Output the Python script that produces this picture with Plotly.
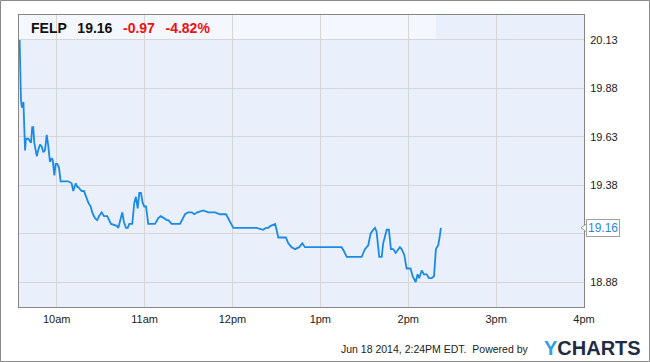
import datetime as dt
import plotly.graph_objects as go

# ---- data: minutes after 9:30 open, and price ----
minutes = [4.7, 5.2, 5.6, 6.3, 7.3, 8.4, 9.0, 10.6, 11.8, 12.5, 13.3, 14.0, 14.7, 16.4, 17.4,
           18.6, 19.8, 20.9, 22.0, 23.2, 24.3, 25.4, 26.6, 27.3, 28.4, 29.3, 30.4, 31.6, 32.7,
           33.4, 36.8, 37.9, 40.2, 41.3, 43.0, 44.1, 44.7, 45.9, 47.1, 48.6, 50.5, 51.6, 53.2,
           54.3, 56.1, 57.7, 58.9, 60.7, 62.3, 64.5, 67.1, 71.0, 72.1, 73.7, 74.8, 75.9, 77.3,
           78.5, 79.6, 80.7, 81.6, 83.0, 84.1, 85.3, 86.4, 87.5, 88.7, 89.8, 91.0, 92.5, 97.1,
           99.4, 101.0, 103.2, 105.1, 106.2, 108.5, 114.2, 117.6, 119.8, 122.2, 123.9, 126.0,
           130.1, 133.5, 138.1, 141.5, 145.6, 147.1, 148.3, 150.6, 152.9, 157.4, 163.1, 166.5,
           171.0, 172.9, 174.4, 176.1, 179.2, 181.3, 186.5, 188.1, 190.4, 192.7, 195.6, 197.7,
           199.5, 202.9, 207.5, 218.8, 222.2, 224.5, 226.1, 228.0, 231.4, 234.8, 237.0, 238.2,
           239.3, 240.5, 242.7, 244.3, 246.1, 247.3, 248.4, 250.2, 251.9, 252.9, 255.3, 256.8,
           258.2, 259.8, 261.4, 263.2, 264.3, 265.5, 267.3, 268.9, 271.6, 273.0, 275.1, 276.4,
           277.5, 279.2, 280.7, 282.6, 284.1, 286.0, 287.6, 288.9, 290.5, 291.6, 292.3]
prices = [20.13, 19.97, 19.82, 19.78, 19.81, 19.56, 19.62, 19.62, 19.61, 19.60, 19.68, 19.68,
          19.60, 19.53, 19.56, 19.59, 19.58, 19.55, 19.56, 19.64, 19.58, 19.50, 19.52, 19.51,
          19.43, 19.49, 19.49, 19.47, 19.40, 19.40, 19.40, 19.40, 19.39, 19.35, 19.39, 19.37,
          19.37, 19.36, 19.35, 19.35, 19.31, 19.29, 19.27, 19.24, 19.21, 19.20, 19.22, 19.24,
          19.22, 19.22, 19.18, 19.17, 19.16, 19.20, 19.24, 19.19, 19.16, 19.16, 19.18, 19.18,
          19.18, 19.29, 19.32, 19.26, 19.34, 19.34, 19.29, 19.27, 19.27, 19.18, 19.18, 19.21,
          19.22, 19.21, 19.20, 19.20, 19.18, 19.18, 19.23, 19.24, 19.24, 19.23, 19.24, 19.25,
          19.24, 19.24, 19.23, 19.23, 19.21, 19.19, 19.16, 19.16, 19.16, 19.16, 19.16, 19.15,
          19.16, 19.16, 19.17, 19.18, 19.11, 19.11, 19.08, 19.06, 19.05, 19.06, 19.08, 19.06,
          19.06, 19.06, 19.06, 19.06, 19.06, 19.04, 19.01, 19.01, 19.01, 19.01, 19.01, 19.03,
          19.05, 19.07, 19.13, 19.15, 19.16, 19.14, 19.01, 19.01, 19.08, 19.15, 19.15, 19.05,
          19.05, 19.03, 19.05, 19.06, 19.05, 19.02, 18.95, 18.95, 18.91, 18.88, 18.92, 18.90,
          18.94, 18.92, 18.92, 18.90, 18.90, 18.91, 19.05, 19.07, 19.12, 19.16]

y_ticks = [18.88, 19.13, 19.38, 19.63, 19.88, 20.13]
x_tick_hours = [10, 11, 12, 13, 14, 15, 16]
x_tick_labels = ["10am", "11am", "12pm", "1pm", "2pm", "3pm", "4pm"]

ticker = "FELP"
last_price = 19.16
change = "-0.97"
change_pct = "-4.82%"
footer = "Jun 18 2014, 2:24PM EDT.  Powered by"

base = dt.datetime(2014, 6, 18, 9, 30)
times = [base + dt.timedelta(minutes=m) for m in minutes]
day = dt.datetime(2014, 6, 18)
x_tickvals = [day + dt.timedelta(hours=h) for h in x_tick_hours]

FONT = "Liberation Sans, Arial, sans-serif"

fig = go.Figure()
fig.add_trace(go.Scatter(x=times, y=prices, mode="lines",
                         line=dict(color="#1a8ae6", width=1.8), hoverinfo="skip"))

L, R, T, B = 19, 66, 15, 55
W, H = 650, 362
pw, ph = W - L - R, H - T - B
y_lo, y_hi = 18.7511, 20.2589
ppu = ph / (y_hi - y_lo)  # pixels per price unit

def px(x):
    return (x - L) / pw

def py(y):
    return (H - B - y) / ph

fig.update_layout(
    width=W, height=H,
    margin=dict(l=L, r=R, t=T, b=B),
    paper_bgcolor="white",
    plot_bgcolor="#e9f0fb",
    showlegend=False,
    font=dict(family=FONT, size=11, color="#222"),
    xaxis=dict(
        type="date",
        range=[base + dt.timedelta(minutes=4.27), day + dt.timedelta(hours=16)],
        tickvals=x_tickvals, ticktext=x_tick_labels,
        showgrid=True, gridcolor="#d6d6d6", gridwidth=1,
        showline=True, mirror=True, linecolor="#858585", linewidth=1,
        ticks="", zeroline=False, ticklabelstandoff=2,
        tickfont=dict(family=FONT, size=11, color="#222"),
    ),
    yaxis=dict(
        side="right",
        range=[y_lo, y_hi],
        tickvals=y_ticks, ticktext=[f"{v:.2f}" for v in y_ticks],
        showgrid=True, gridcolor="#d6d6d6", gridwidth=1,
        showline=True, mirror=True, linecolor="#858585", linewidth=1,
        ticks="", zeroline=False, ticklabelstandoff=3,
        tickfont=dict(family=FONT, size=11, color="#222"),
    ),
)

d = 4 / ppu
shapes = [
    # header band
    dict(type="rect", xref="paper", yref="paper", x0=0, x1=px(436), y0=py(40), y1=1,
         fillcolor="#f4f7fd", line=dict(width=0), layer="below"),
    # outer border
    dict(type="rect", xref="paper", yref="paper", x0=px(0.5), x1=px(649.5), y0=py(361.5), y1=py(0.5),
         fillcolor="rgba(0,0,0,0)", line=dict(color="#8a8a8a", width=1), layer="above"),
    # pointer of price flag
    dict(type="path", xref="paper", yref="y",
         path=f"M {px(586.5)},{last_price + d} L {px(581)},{last_price} L {px(586.5)},{last_price - d} Z",
         fillcolor="white", line=dict(color="#a0a0a0", width=1), layer="above"),
]
fig.update_layout(shapes=shapes)

sp = "&nbsp;&nbsp;&#8201;"
anns = [
    dict(xref="paper", yref="paper", x=px(29), y=py(28), xanchor="left", yanchor="middle",
         showarrow=False,
         text=(f"<b>{ticker}{sp}{last_price:.2f}{sp}"
               f"<span style='color:#ee1111'>{change}{sp}{change_pct}</span></b>"),
         font=dict(family=FONT, size=14, color="#111")),
    dict(xref="paper", yref="y", x=px(585.5), y=last_price, xanchor="left", yanchor="middle",
         showarrow=False, text=f"{last_price:.2f}", bgcolor="white", bordercolor="#a0a0a0",
         borderwidth=1, borderpad=1, font=dict(family=FONT, size=12, color="#2a8ae0")),
    dict(xref="paper", yref="paper", x=px(531), y=py(349), xanchor="right", yanchor="middle",
         showarrow=False, text=footer.replace("  ", "&nbsp; "),
         font=dict(family=FONT, size=10.5, color="#222")),
    dict(xref="paper", yref="paper", x=px(542), y=py(348), xanchor="left", yanchor="middle",
         showarrow=False,
         text="<b><span style='color:#2f9fe2'>Y</span><span style='color:#1e2c44'>CHARTS</span></b>",
         font=dict(family=FONT, size=20)),
]
fig.update_layout(annotations=anns)

fig.write_html("out.html")
